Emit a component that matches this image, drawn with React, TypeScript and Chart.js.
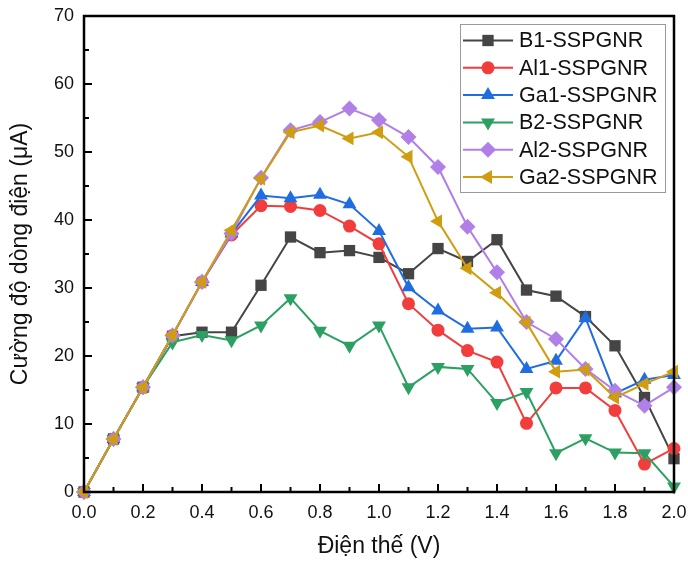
import React, { useEffect, useRef } from "react";
import { Chart, registerables } from "chart.js";

Chart.register(...registerables);

const voltages = [0, 0.1, 0.2, 0.3, 0.4, 0.5, 0.6, 0.7, 0.8, 0.9, 1.0, 1.1, 1.2, 1.3, 1.4, 1.5, 1.6, 1.7, 1.8, 1.9, 2.0];
const seriesNames = ["B1-SSPGNR", "Al1-SSPGNR", "Ga1-SSPGNR", "B2-SSPGNR", "Al2-SSPGNR", "Ga2-SSPGNR"];
const b1 = [0, 7.8, 15.4, 22.9, 23.5, 23.5, 30.4, 37.5, 35.2, 35.5, 34.5, 32.1, 35.8, 33.9, 37.1, 29.7, 28.8, 25.8, 21.5, 13.9, 4.9];
const al1 = [0, 7.8, 15.4, 23.0, 30.9, 37.8, 42.1, 42.0, 41.4, 39.1, 36.5, 27.7, 23.8, 20.8, 19.1, 10.1, 15.3, 15.3, 12.0, 4.1, 6.4];
const ga1 = [0, 7.8, 15.4, 23.0, 30.9, 38.0, 43.6, 43.2, 43.7, 42.3, 38.4, 30.1, 26.7, 24.0, 24.2, 18.1, 19.3, 25.6, 14.5, 16.5, 17.2];
const b2 = [0, 7.8, 15.4, 22.0, 23.1, 22.3, 24.5, 28.5, 23.7, 21.5, 24.5, 15.4, 18.4, 18.1, 13.1, 14.7, 5.7, 7.9, 5.8, 5.7, 0.8];
const al2 = [0, 7.8, 15.4, 23.0, 30.9, 38.0, 46.2, 53.2, 54.4, 56.4, 54.7, 52.2, 47.8, 39.0, 32.3, 25.0, 22.5, 18.1, 14.9, 12.7, 15.4];
const ga2 = [0, 7.8, 15.4, 23.1, 30.9, 38.5, 46.1, 52.9, 53.9, 52.0, 52.9, 49.3, 39.8, 32.9, 29.3, 24.9, 17.7, 18.0, 13.9, 15.9, 17.7];
const seriesValues = [b1, al1, ga1, b2, al2, ga2];
const colors = ["#454545", "#f23d3d", "#1f6de0", "#2ba062", "#b07fe8", "#d09d10"];
const pointStyles = ["rect", "circle", "triangle", "triangle", "rectRot", "triangle"];
const rotations = [0, 0, 0, 180, 0, -90];
const radii = [8, 6.5, 8, 8, 8, 8];
const xTitle = "Điện thế (V)";
const yTitle = "Cường độ dòng điện (μA)";
const yMax = 70;
const xMax = 2.0;

const FONT = "'Liberation Sans', Arial, sans-serif";

function drawMarker(ctx: CanvasRenderingContext2D, style: string, rot: number, r: number, x: number, y: number) {
  ctx.beginPath();
  if (style === "rect") {
    const s = Math.SQRT1_2 * r;
    ctx.rect(x - s, y - s, 2 * s, 2 * s);
  } else if (style === "circle") {
    ctx.arc(x, y, r, 0, Math.PI * 2);
  } else if (style === "rectRot") {
    ctx.moveTo(x, y - r);
    ctx.lineTo(x + r, y);
    ctx.lineTo(x, y + r);
    ctx.lineTo(x - r, y);
    ctx.closePath();
  } else {
    let rad = (rot * Math.PI) / 180;
    ctx.moveTo(x + Math.sin(rad) * r, y - Math.cos(rad) * r);
    rad += (2 * Math.PI) / 3;
    ctx.lineTo(x + Math.sin(rad) * r, y - Math.cos(rad) * r);
    rad += (2 * Math.PI) / 3;
    ctx.lineTo(x + Math.sin(rad) * r, y - Math.cos(rad) * r);
    ctx.closePath();
  }
  ctx.fill();
}

const framePlugin = {
  id: "frame",
  afterDatasetsDraw(chart: any) {
    const { ctx, chartArea } = chart;
    const { left, right, top, bottom } = chartArea;
    const xs = chart.scales.x;
    const ys = chart.scales.y;
    ctx.save();
    ctx.strokeStyle = "#000";
    ctx.lineWidth = 2;
    for (let i = 0; i <= 20; i++) {
      const v = i / 10;
      const px = xs.getPixelForValue(v);
      const len = i % 2 === 0 ? 8 : 5;
      ctx.beginPath();
      ctx.moveTo(px, bottom);
      ctx.lineTo(px, bottom - len);
      ctx.stroke();
    }
    for (let v = 0; v <= yMax; v += 5) {
      const py = ys.getPixelForValue(v);
      const len = v % 10 === 0 ? 8 : 5;
      ctx.beginPath();
      ctx.moveTo(left, py);
      ctx.lineTo(left + len, py);
      ctx.stroke();
    }
    ctx.lineWidth = 2.5;
    ctx.strokeRect(left, top, right - left, bottom - top);

    // legend
    const lx = 460.5, ly = 24.5, lw = 205, lh = 168;
    ctx.fillStyle = "#fff";
    ctx.fillRect(lx, ly, lw, lh);
    ctx.lineWidth = 1;
    ctx.strokeStyle = "#9a9a9a";
    ctx.strokeRect(lx, ly, lw, lh);
    ctx.font = `21.5px ${FONT}`;
    ctx.textBaseline = "middle";
    ctx.textAlign = "left";
    for (let i = 0; i < seriesNames.length; i++) {
      const y = 40.5 + i * 27.3;
      ctx.strokeStyle = colors[i];
      ctx.lineWidth = 2;
      ctx.beginPath();
      ctx.moveTo(463, y);
      ctx.lineTo(513, y);
      ctx.stroke();
      ctx.fillStyle = colors[i];
      drawMarker(ctx, pointStyles[i], rotations[i], radii[i], 488, y);
      ctx.fillStyle = "#111";
      ctx.fillText(seriesNames[i], 519, y + 1);
    }
    ctx.restore();
  },
};

export default function App() {
  const ref = useRef<HTMLCanvasElement | null>(null);
  useEffect(() => {
    if (!ref.current) return;
    const datasets = seriesNames.map((name, i) => ({
      label: name,
      data: voltages.map((v, j) => ({ x: v, y: seriesValues[i][j] })),
      borderColor: colors[i],
      backgroundColor: colors[i],
      pointBackgroundColor: colors[i],
      pointBorderColor: colors[i],
      pointBorderWidth: 0,
      pointStyle: pointStyles[i] as any,
      pointRotation: rotations[i],
      pointRadius: radii[i],
      borderWidth: 2,
      order: seriesNames.length - i,
      clip: false as any,
      tension: 0,
    }));
    const chart = new Chart(ref.current, {
      type: "line",
      data: { datasets },
      options: {
        animation: false,
        responsive: false,
        maintainAspectRatio: false,
        layout: { padding: { left: 0, top: 16, right: 14, bottom: 0 } },
        plugins: { legend: { display: false }, tooltip: { enabled: false } },
        scales: {
          x: {
            type: "linear",
            min: 0,
            max: xMax,
            grid: { display: false, drawTicks: false },
            border: { display: false },
            ticks: {
              stepSize: 0.2,
              padding: 10,
              color: "#111",
              font: { family: FONT, size: 18 },
              callback: (v: any) => Number(v).toFixed(1),
            },
            title: {
              display: true,
              text: xTitle,
              color: "#111",
              font: { family: FONT, size: 23 },
              padding: { top: 6, bottom: 3 },
            },
            afterFit: (s: any) => {
              s.height = 71;
              s.paddingLeft = 0;
              s.paddingRight = 0;
            },
          },
          y: {
            type: "linear",
            min: 0,
            max: yMax,
            grid: { display: false, drawTicks: false },
            border: { display: false },
            ticks: {
              stepSize: 10,
              padding: 10,
              color: "#111",
              font: { family: FONT, size: 18 },
            },
            title: {
              display: true,
              text: yTitle,
              color: "#111",
              font: { family: FONT, size: 23 },
              padding: { top: 7, bottom: 0 },
            },
            afterFit: (s: any) => {
              s.width = 84;
              s.paddingTop = 0;
              s.paddingBottom = 0;
            },
          },
        },
      },
      plugins: [framePlugin],
    });
    return () => chart.destroy();
  }, []);
  return (
    <div style={{ position: "fixed", left: 0, top: 0, width: 688, height: 563, background: "#fff" }}>
      <canvas ref={ref} width={688} height={563} style={{ width: 688, height: 563 }} />
    </div>
  );
}
